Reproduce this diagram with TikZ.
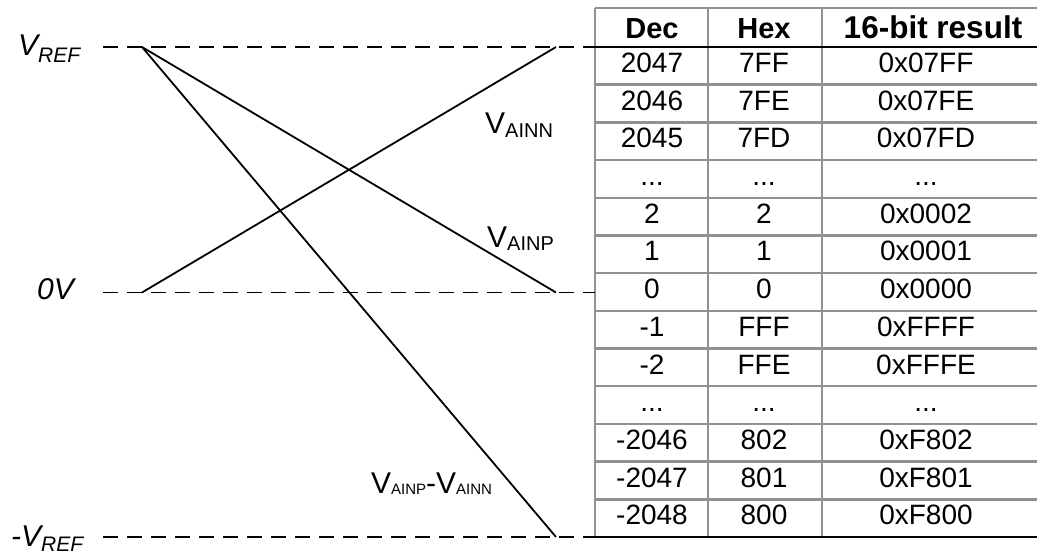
\documentclass[tikz,border=0pt]{standalone}
\usepackage{fontspec}
\setmainfont{Liberation Sans}
\definecolor{tgray}{RGB}{145,145,145}
\newcommand{\subtxt}[3]{\raisebox{-#1}{\fontsize{#2}{#2}\selectfont #3}}
\newcommand{\ddd}{.\kern0pt.\kern0pt.}
\begin{document}
\begin{tikzpicture}[x=1pt,y=-1pt,
  cell/.style={anchor=base,inner sep=0pt,font=\fontsize{28}{28}\selectfont},
  head/.style={anchor=base,inner sep=0pt,font=\fontsize{29}{29}\selectfont\bfseries},
  lbl/.style={anchor=base west,inner sep=0pt,font=\fontsize{30}{30}\selectfont},
  ilbl/.style={anchor=base west,inner sep=0pt,font=\fontsize{30}{30}\selectfont\itshape},
  refline/.style={dash pattern=on 15pt off 9pt, line width=1.9pt},
  sig/.style={line width=1.8pt},
  gridline/.style={tgray,line width=2.4pt},
  blackline/.style={black,line width=2.2pt}]
\useasboundingbox (0,0) rectangle (1037,554);
% table grid
\foreach \i in {1,2,3,4,5,6,7,8,9,10,11,12} {
  \draw[gridline] (595,{47+37.692*\i}) -- (1037,{47+37.692*\i});
}
\draw[gridline] (595,8) -- (1037,8);
\foreach \x in {595,708,822} {
  \draw[gridline] (\x,8) -- (\x,537);
}
% reference coordinates
\coordinate (vrefS) at (103,47);
\coordinate (vrefA) at (142,47);
\coordinate (vrefB) at (556,47);
\coordinate (vrefT) at (595,47);
\coordinate (vrefE) at (1037,47);
\coordinate (zeroS) at (103,292.5);
\coordinate (zeroA) at (142,292.5);
\coordinate (zeroB) at (556,292.5);
\coordinate (zeroT) at (595,292.5);
\coordinate (nrefS) at (103,537);
\coordinate (nrefB) at (556,537);
\coordinate (nrefT) at (588,537);
\coordinate (nrefE) at (1037,537);
% dashed reference lines
\draw[refline] (vrefS) -- (vrefT);
\draw[refline] (zeroS) -- (zeroT);
\draw[refline] (nrefS) -- (nrefT);
\draw[blackline] (vrefT) -- (vrefE);
\draw[blackline] (nrefT) -- (nrefE);
% signal lines
\draw[sig] (zeroA) -- (vrefB);
\draw[sig] (vrefA) -- (zeroB);
\draw[sig] (vrefA) -- (nrefB);
% header
\node[head] (hdec) at (652,38) {Dec};
\node[head] (hhex) at (764,38) {Hex};
\node[head,font=\fontsize{31.5}{31.5}\selectfont\bfseries] (hres) at (933,38.5) {16-bit result};
% rows
\foreach \d/\h/\r [count=\i from 0] in {2047/7FF/0x07FF,2046/7FE/0x07FE,2045/7FD/0x07FD,{\ddd}/{\ddd}/{\ddd},2/2/0x0002,1/1/0x0001,0/0/0x0000,-1/FFF/0xFFFF,-2/FFE/0xFFFE,{\ddd}/{\ddd}/{\ddd},-2046/802/0xF802,-2047/801/0xF801,-2048/800/0xF800} {
  \node[cell] (dec\i) at (652,{47+37.692*\i+25.5}) {\d};
  \node[cell] (hex\i) at (764,{47+37.692*\i+25.5}) {\h};
  \node[cell] (res\i) at (926,{47+37.692*\i+25.5}) {\r};
}
% left labels
\node[ilbl] (lvref) at (18,55) {V\subtxt{7pt}{21}{REF}};
\node[ilbl] (lzero) at (37,299.5) {0V};
\node[ilbl] (lnref) at (11,546) {-V\subtxt{5pt}{21}{REF}};
% signal labels
\node[lbl] (lainn) at (485,133) {V\subtxt{4pt}{20}{AINN}};
\node[lbl] (lainp) at (487,247) {V\subtxt{3pt}{20}{AINP}};
\node[lbl] (ldiff) at (371,493) {V\subtxt{1pt}{15}{AINP}-V\subtxt{1pt}{15}{AINN}};
\end{tikzpicture}
\end{document}
